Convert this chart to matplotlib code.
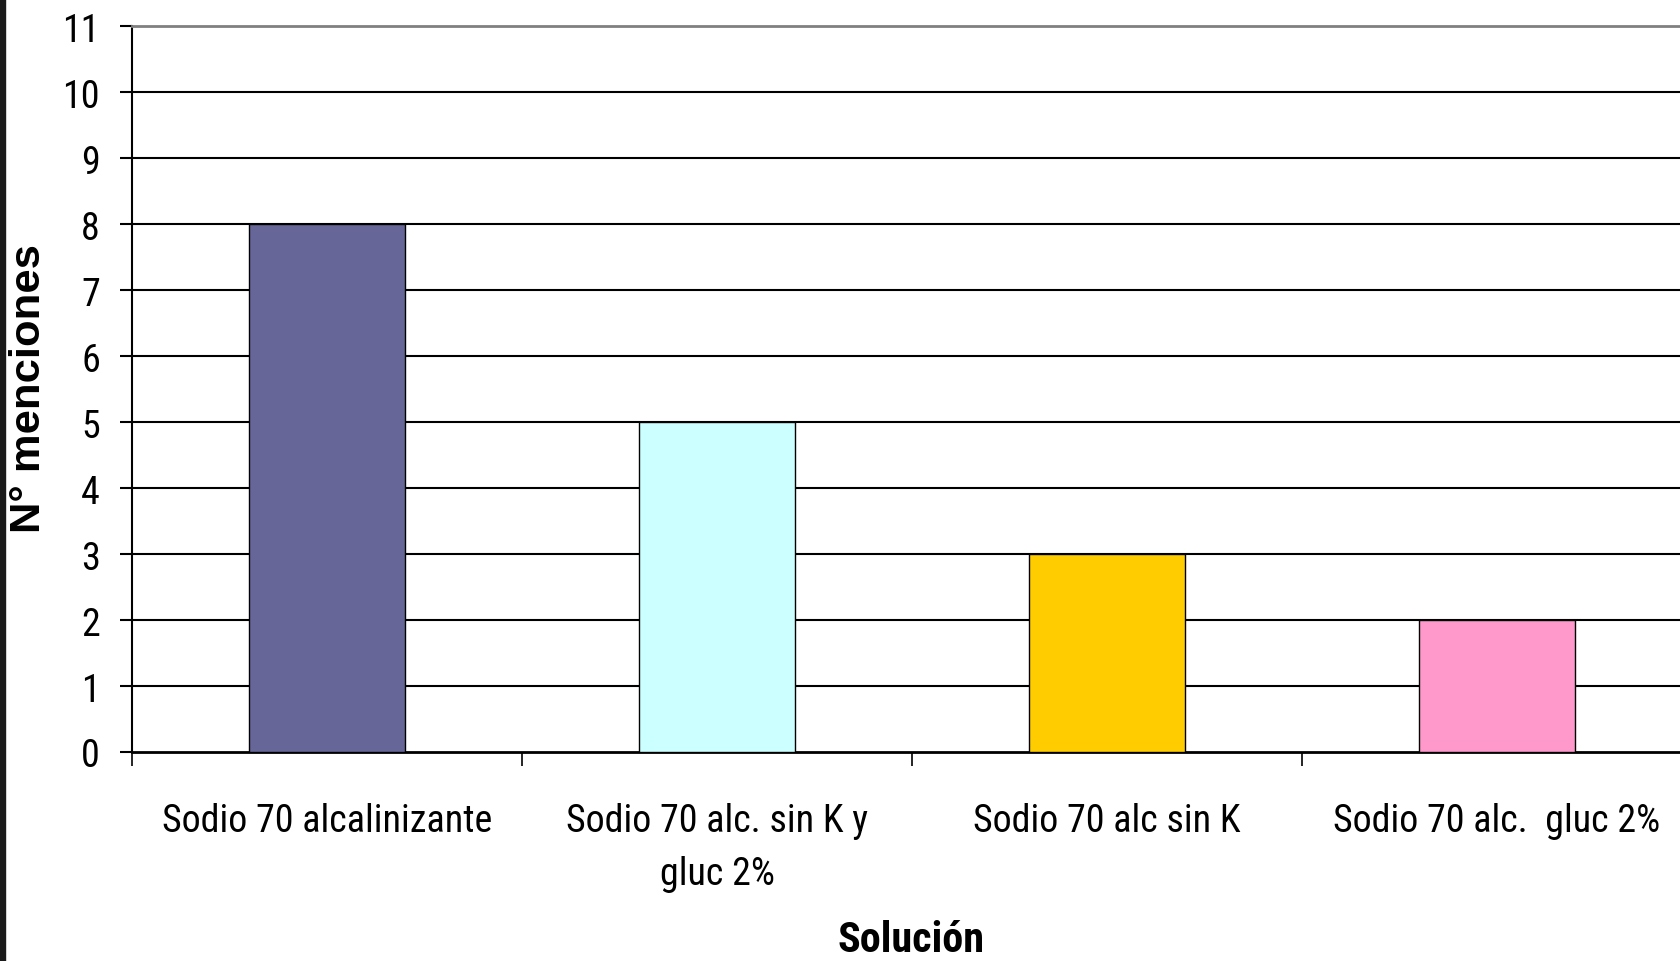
import matplotlib
matplotlib.use("Agg")
import matplotlib.pyplot as plt
from matplotlib import font_manager
from matplotlib.patches import Rectangle

categories = ["Sodio 70 alcalinizante", "Sodio 70 alc. sin K y\ngluc 2%",
              "Sodio 70 alc sin K", "Sodio 70 alc.  gluc 2%"]
values = [8, 5, 3, 2]
colors = ["#666699", "#CCFFFF", "#FFCC00", "#FF99CC"]
yticks = list(range(0, 12))

names = {f.name for f in font_manager.fontManager.ttflist}
narrow = None
for cand in ["Liberation Sans Narrow", "Arial Narrow", "Roboto Condensed",
             "Open Sans Condensed", "DejaVu Sans Condensed", "Noto Sans Condensed"]:
    if cand in names:
        narrow = cand
        break
base = narrow if narrow else "Liberation Sans"
plt.rcParams["font.family"] = [base, "DejaVu Sans"]

W, H = 1680, 962
fig = plt.figure(figsize=(W / 100, H / 100), dpi=100)
renderer = fig.canvas.get_renderer()


def fit_size(text, target_px, **kw):
    t = fig.text(0, 0, text, fontsize=20, **kw)
    w = t.get_window_extent(renderer).width
    t.remove()
    return 20 * target_px / w


fs = fit_size("Sodio 70 alcalinizante", 329)
fs_x = fit_size("Solución", 147, fontweight="bold")
ylab_family = ["Liberation Sans", "DejaVu Sans"]
fs_ylab = fit_size("N° menciones", 288, fontweight="bold", family=ylab_family)

left, right, top, bottom = 132, 1692, 27, 753
ax = fig.add_axes([left / W, 1 - bottom / H, (right - left) / W, (bottom - top) / H])

x = list(range(len(categories)))
ax.bar(x, values, width=0.4, color=colors, edgecolor="black", linewidth=1.0, zorder=3)

ax.set_xlim(-0.5, 3.5)
ax.set_ylim(0, 11)
ax.set_yticks(yticks)
ax.set_yticklabels([str(t) for t in yticks], fontsize=fs)
for t in yticks[1:-1]:
    ax.axhline(t, color="black", linewidth=1.5, zorder=1)

ax.spines["right"].set_visible(False)
ax.spines["top"].set_color("#808080")
ax.spines["top"].set_linewidth(2)
ax.spines["left"].set_linewidth(1.5)
ax.spines["bottom"].set_linewidth(2)

ax.set_xticks(x)
ax.set_xticklabels(categories, fontsize=fs, linespacing=1.55)
ax.set_xticks([-0.5, 0.5, 1.5, 2.5, 3.5], minor=True)
ax.tick_params(axis="x", which="major", length=0, pad=36)
ax.tick_params(axis="x", which="minor", length=10, width=1.2, direction="out")
ax.tick_params(axis="y", length=9, width=1.5, direction="out", pad=14)

ax.set_xlabel("Solución", fontsize=fs_x, fontweight="bold")
ax.xaxis.set_label_coords((911 - left) / (right - left), -(952 - bottom) / (bottom - top))
ax.xaxis.label.set_verticalalignment("baseline")
ax.set_ylabel("N° menciones", fontsize=fs_ylab, fontweight="bold", family=ylab_family)
ax.yaxis.set_label_coords(-(left - 29) / (right - left), (753 - 389) / (bottom - top))
ax.yaxis.label.set_verticalalignment("center")

fig.patches.append(Rectangle((0, 0), 4.5 / W, 1, transform=fig.transFigure,
                             color="#1a1a1a", zorder=10))

fig.savefig("out.png", dpi=100)
